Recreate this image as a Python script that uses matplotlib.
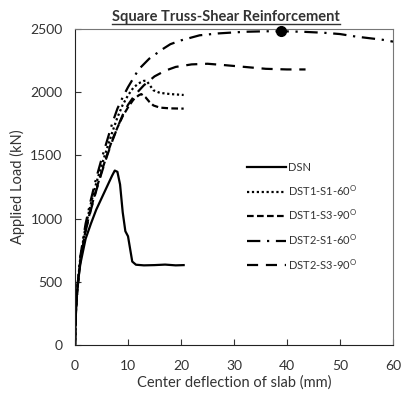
import numpy as np
import matplotlib.pyplot as plt
from matplotlib.lines import Line2D

plt.rcParams['font.family'] = ['Lato', 'DejaVu Sans']

# curve data (deflection mm, load kN)
dsn_x = [0, 0.2, 0.5, 1, 2, 3, 4, 5, 6, 7, 7.5, 8, 8.5, 9, 9.5, 10, 10.4, 10.8, 11.5, 13, 15, 17, 19, 20.5]
dsn_y = [0, 300, 480, 640, 840, 960, 1070, 1160, 1250, 1340, 1380, 1370, 1270, 1050, 900, 860, 760, 660, 635, 630, 632, 636, 630, 632]

dst1_s1_x = [0, 0.2, 0.5, 1, 2, 3, 4, 5, 6, 7, 8, 9, 10, 11, 12, 13, 13.5, 14.2, 14.8, 16, 18, 20.5]
dst1_s1_y = [0, 300, 480, 690, 940, 1120, 1280, 1420, 1550, 1680, 1800, 1900, 1975, 2035, 2070, 2090, 2090, 2050, 2015, 1995, 1985, 1978]

dst1_s3_x = [0, 0.2, 0.5, 1, 2, 3, 4, 5, 6, 7, 8, 9, 10, 11, 12, 12.5, 13.3, 14, 14.8, 16, 18, 20.5]
dst1_s3_y = [0, 290, 460, 670, 910, 1080, 1230, 1370, 1500, 1620, 1720, 1810, 1880, 1940, 1975, 1985, 1960, 1925, 1895, 1878, 1872, 1870]

dst2_s1_x = [0, 0.2, 0.5, 1, 2, 3, 4, 5, 6, 7, 8, 9, 10, 11, 12, 14, 16.5, 18, 20, 23.5, 27, 32, 36, 39, 43, 47, 50, 53, 56, 58, 60]
dst2_s1_y = [0, 300, 480, 700, 960, 1150, 1320, 1470, 1610, 1750, 1870, 1960, 2040, 2110, 2180, 2265, 2340, 2380, 2410, 2450, 2465, 2478, 2482, 2482, 2478, 2470, 2460, 2440, 2425, 2415, 2400]

dst2_s3_x = [0, 0.2, 0.5, 1, 2, 3, 4, 5, 6, 7, 8, 9, 10, 11, 12, 13, 14, 15, 17, 19, 22, 25, 28, 32, 36, 40, 43.5]
dst2_s3_y = [0, 290, 460, 660, 900, 1070, 1220, 1360, 1490, 1610, 1720, 1820, 1900, 1960, 2010, 2055, 2090, 2125, 2170, 2200, 2220, 2225, 2215, 2200, 2185, 2180, 2180]

peak_x, peak_y = 38.8, 2482

fig = plt.figure(figsize=(4.02, 3.94), dpi=100)
ax = fig.add_axes([0.1866, 0.1244, 0.791, 0.802])

lw = 1.6
ax.plot(dsn_x, dsn_y, color='black', lw=lw, label='DSN')
ax.plot(dst1_s1_x, dst1_s1_y, color='black', lw=lw, linestyle=(0, (1, 1.2)),
        label='DST1-S1-60$^{\\mathregular{O}}$')
ax.plot(dst1_s3_x, dst1_s3_y, color='black', lw=lw, linestyle=(0, (3, 1.5)),
        label='DST1-S3-90$^{\\mathregular{O}}$')
ax.plot(dst2_s1_x, dst2_s1_y, color='black', lw=lw, linestyle=(0, (6, 3, 1, 3)),
        label='DST2-S1-60$^{\\mathregular{O}}$')
ax.plot(dst2_s3_x, dst2_s3_y, color='black', lw=lw, linestyle=(0, (5, 3.5)),
        label='DST2-S3-90$^{\\mathregular{O}}$')
ax.plot([peak_x], [peak_y], 'o', color='black', markersize=7, clip_on=False, zorder=5)

ax.set_xlim(0, 60)
ax.set_ylim(0, 2500)
ax.set_xticks(np.arange(0, 61, 10))
ax.set_yticks(np.arange(0, 2501, 500))
ax.tick_params(direction='in', length=4, labelsize=10, colors='#333333')
ax.tick_params(axis='y', pad=9)
ax.tick_params(axis='x', pad=11)
for s in ax.spines.values():
    s.set_color('#777777')
ax.spines['left'].set_color('#222222')
ax.spines['bottom'].set_color('#222222')

ax.set_xlabel('Center deflection of slab (mm)', fontsize=10.5, color='#333333', labelpad=2)
ax.set_ylabel('Applied Load (kN)', fontsize=10.5, color='#333333', labelpad=4)

title = ax.set_title('Square Truss-Shear Reinforcement', fontsize=10.5,
                     fontweight='bold', color='#333333', pad=6, x=0.475)

ax.legend(loc='upper left', bbox_to_anchor=(0.51, 0.61), frameon=False,
          fontsize=8, handlelength=3.5, handletextpad=0.2, labelspacing=0.9,
          labelcolor='#333333')

# underline the title
fig.canvas.draw()
bb = title.get_window_extent().transformed(fig.transFigure.inverted())
fig.add_artist(Line2D([bb.x0, bb.x1], [bb.y0 - 0.002, bb.y0 - 0.002],
                      transform=fig.transFigure, color='#333333', lw=1))

fig.savefig('out.png', dpi=100)
